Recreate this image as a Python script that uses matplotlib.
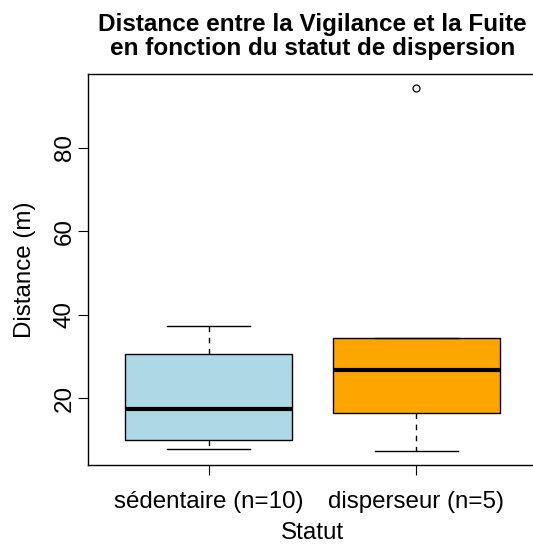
import matplotlib
matplotlib.use("Agg")
import matplotlib.pyplot as plt

plt.rcParams['font.family'] = ['Liberation Sans', 'DejaVu Sans']

# summary stats per group (min whisker, Q1, median, Q3, max whisker)
groupes = ["sédentaire (n=10)", "disperseur (n=5)"]
whis_bas = [7.8, 7.5]
q1 = [10.0, 16.5]
mediane = [17.5, 26.9]
q3 = [30.6, 34.4]
whis_haut = [37.2, 34.4]
extremes = [[], [94.2]]
couleurs = ["#ADD8E6", "#FFA500"]

stats = []
for i, nom in enumerate(groupes):
    stats.append(dict(label=nom, whislo=whis_bas[i], q1=q1[i], med=mediane[i],
                      q3=q3[i], whishi=whis_haut[i], fliers=extremes[i]))

fig = plt.figure(figsize=(5.33, 5.45), dpi=100)
ax = fig.add_axes([88 / 533, 80 / 545, 449 / 533, 391 / 545])

bp = ax.bxp(stats, positions=[1, 2], widths=0.8, capwidths=0.4,
            patch_artist=True, showfliers=True,
            boxprops=dict(edgecolor="black", linewidth=1),
            medianprops=dict(color="black", linewidth=3, solid_capstyle="butt"),
            whiskerprops=dict(color="black", linewidth=1, linestyle=(0, (4, 4))),
            capprops=dict(color="black", linewidth=1),
            flierprops=dict(marker="o", markerfacecolor="none",
                            markeredgecolor="black", markersize=5, markeredgewidth=0.9))
for patch, c in zip(bp["boxes"], couleurs):
    patch.set_facecolor(c)

ax.set_xlim(0.42, 2.58)
ax.set_ylim(4.03, 97.67)
ax.set_yticks([20, 40, 60, 80])
ax.set_xticks([1, 2])
ax.set_xticklabels(groupes)
ax.tick_params(axis="both", labelsize=17.4, length=7, width=0.8, direction="out")
ax.tick_params(axis="y", pad=2)
ax.tick_params(axis="x", pad=12)
for lab in ax.get_yticklabels():
    lab.set_rotation(90)
    lab.set_va("center")
for s in ax.spines.values():
    s.set_linewidth(1)

ax.set_ylabel("Distance (m)", fontsize=17.4, labelpad=12.5)
ax.set_xlabel("Statut", fontsize=17.4, labelpad=6.5)
ax.set_title("Distance entre la Vigilance et la Fuite\nen fonction du statut de dispersion",
             fontsize=17.5, fontweight="bold", pad=13.5, linespacing=1.05)

fig.savefig("out.png", dpi=100)
